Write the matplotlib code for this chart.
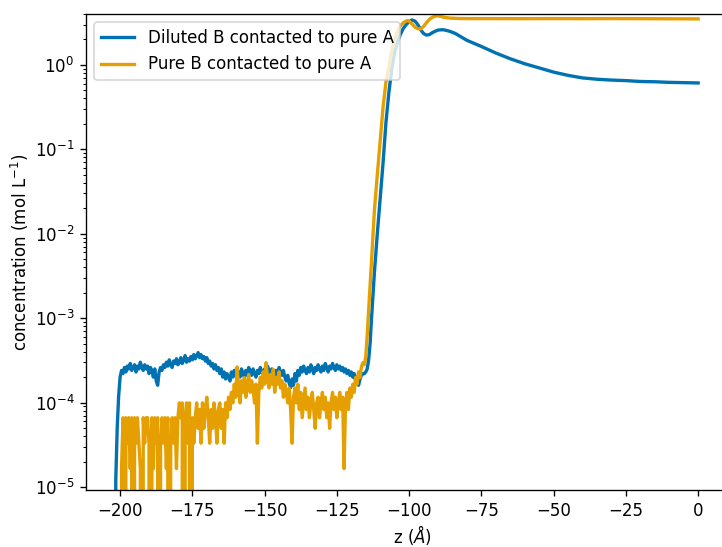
import numpy as np
import matplotlib
matplotlib.use("Agg")
import matplotlib.pyplot as plt

# sampling grid of the noisy bulk region (Angstrom)
z_noise = np.arange(-202, -115.9, 0.5)

# diluted B: concentration in 1e-4 mol/L over the noisy region
diluted_noise = [
    0, 0.12, 0.5, 1.2, 2.0, 2.4, 2.2, 2.6, 2.3, 2.7,
    2.5, 2.9, 2.4, 2.6, 2.8, 2.3, 2.7, 2.5, 3.0, 2.6,
    2.4, 2.8, 2.5, 2.7, 2.2, 2.6, 2.4, 2.0, 2.5, 1.8,
    1.6, 2.3, 2.6, 2.4, 2.8, 2.6, 3.0, 2.7, 3.2, 2.8,
    2.6, 3.1, 2.9, 3.3, 2.8, 3.0, 3.4, 2.9, 3.2, 3.6,
    3.0, 3.3, 3.1, 3.5, 3.2, 3.7, 3.3, 3.6, 3.9, 3.4,
    3.7, 3.3, 3.5, 3.1, 3.4, 2.9, 3.1, 2.7, 2.9, 2.5,
    2.8, 2.4, 2.6, 2.2, 2.5, 2.0, 2.3, 1.9, 2.2, 2.0,
    1.8, 2.3, 2.0, 2.4, 2.1, 1.9, 2.3, 2.0, 2.5, 2.2,
    2.0, 2.4, 2.1, 2.6, 2.3, 2.1, 2.5, 2.2, 2.0, 2.4,
    2.2, 2.6, 2.3, 2.1, 2.5, 2.2, 2.7, 2.4, 2.1, 2.5,
    2.3, 2.0, 2.4, 2.2, 2.6, 2.3, 2.1, 2.4, 2.0, 1.8,
    2.1, 1.7, 1.5, 1.9, 1.6, 2.2, 1.8, 2.4, 2.1, 2.6,
    2.3, 2.7, 2.4, 2.2, 2.6, 2.3, 2.8, 2.5, 2.2, 2.6,
    2.4, 2.8, 2.5, 2.3, 2.7, 2.4, 2.9, 2.6, 2.3, 2.7,
    2.5, 2.9, 2.6, 2.4, 2.8, 2.5, 2.7, 2.4, 2.6, 2.3,
    2.5, 2.2, 2.4, 2.1, 2.3, 2.0, 2.2, 1.8, 2.0, 1.6,
    1.9, 2.1, 2.2,
]

# pure B: molecule counts per bin over the noisy region (1 count = 1.65e-5 mol/L)
count_unit = 1.65e-5
pure_counts = [
    0, 0, 0, 0, 0, 1, 4, 0, 4, 2,
    4, 1, 4, 0, 4, 2, 4, 2, 1, 0,
    4, 2, 4, 4, 2, 0, 4, 1, 4, 2,
    4, 0, 2, 4, 2, 4, 1, 4, 0, 2,
    4, 2, 4, 1, 4, 6, 4, 6, 0, 4,
    6, 2, 6, 0, 4, 2, 4, 6, 3, 5,
    2, 6, 3, 5, 7, 4, 2, 5, 3, 6,
    4, 2, 5, 6, 3, 5, 2, 6, 4, 7,
    5, 8, 6, 10, 7, 16, 9, 6, 11, 8,
    12, 7, 10, 13, 8, 11, 9, 6, 10, 2,
    8, 12, 9, 14, 10, 18, 12, 9, 13, 10,
    15, 8, 12, 10, 14, 9, 11, 7, 10, 8,
    6, 9, 5, 2, 7, 9, 6, 10, 5, 8,
    4, 6, 9, 5, 7, 4, 6, 8, 5, 3,
    6, 7, 4, 6, 8, 5, 7, 4, 6, 3,
    6, 8, 5, 7, 4, 6, 8, 5, 7, 1,
    6, 8, 5, 9, 7, 10, 8, 12, 10, 14,
    12, 16, 18,
]

# interface and A side (mol/L)
z_diluted_tail = [-115.5, -115, -114.5, -114, -113.5, -113, -112, -111, -110, -109,
                  -108, -107, -106, -105, -104, -103, -102, -101, -100, -99,
                  -98, -97, -96, -95, -94, -93, -92, -91, -90, -89,
                  -88, -86, -84, -80, -75, -70, -65, -60, -55, -50,
                  -45, -40, -35, -30, -25, -20, -15, -10, -5, 0]
diluted_tail = [2.2e-4, 2.3e-4, 2.5e-4, 3.2e-4, 5e-4, 1e-3, 3.5e-3, 0.01, 0.026, 0.07,
                0.21, 0.47, 0.9, 1.4, 1.85, 2.3, 2.7, 3.0, 3.25, 3.4,
                3.3, 3.0, 2.6, 2.35, 2.25, 2.28, 2.4, 2.5, 2.58, 2.6,
                2.6, 2.5, 2.35, 1.95, 1.65, 1.38, 1.18, 1.03, 0.92, 0.82,
                0.75, 0.7, 0.675, 0.66, 0.65, 0.635, 0.63, 0.62, 0.615, 0.61]

z_pure_tail = [-115.5, -115, -114.5, -114, -113, -112, -111, -110, -109, -108,
               -107, -106, -105, -104, -103, -102, -101, -100.5, -100, -99,
               -98, -97, -96, -95, -94, -93, -92, -91, -90, -89,
               -88, -86, -83, -80, -70, -60, -50, -40, -30, -20,
               -10, 0]
pure_tail = [2.8e-4, 3.5e-4, 6.3e-4, 1.26e-3, 4.8e-3, 0.019, 0.05, 0.126, 0.32, 0.63,
             0.93, 1.48, 2.0, 2.5, 2.9, 3.15, 3.3, 3.35, 3.3, 3.05,
             2.8, 2.68, 2.66, 2.85, 3.15, 3.45, 3.65, 3.78, 3.8, 3.75,
             3.66, 3.58, 3.54, 3.53, 3.52, 3.52, 3.53, 3.52, 3.53, 3.52,
             3.51, 3.5]

z_ticks = [-200, -175, -150, -125, -100, -75, -50, -25, 0]

z_diluted = np.concatenate([z_noise, z_diluted_tail])
c_diluted = np.concatenate([np.array(diluted_noise) * 1e-4, diluted_tail])
z_pure = np.concatenate([z_noise, z_pure_tail])
c_pure = np.concatenate([np.array(pure_counts) * count_unit, pure_tail])

fig = plt.figure(figsize=(722 / 120, 547 / 120), dpi=120)
# right spine sits just past the image edge, as in the cropped original
ax = fig.add_axes([86 / 722, 1 - 490 / 547, 652 / 722, 476 / 547])

ax.plot(z_diluted, c_diluted, color="#0072B2", lw=2, label="Diluted B contacted to pure A")
ax.plot(z_pure, c_pure, color="#E69F00", lw=2, label="Pure B contacted to pure A")
ax.set_yscale("log")
ax.set_xlim(-211.8, 13.8)
ax.set_ylim(9.2e-6, 4.0)
ax.set_xticks(z_ticks)
ax.set_xlabel("z ($\\AA$)", labelpad=2)
ax.set_ylabel("concentration (mol L$^{-1}$)", labelpad=2)
ax.legend(loc="upper left")

fig.savefig("out.png", dpi=120)
